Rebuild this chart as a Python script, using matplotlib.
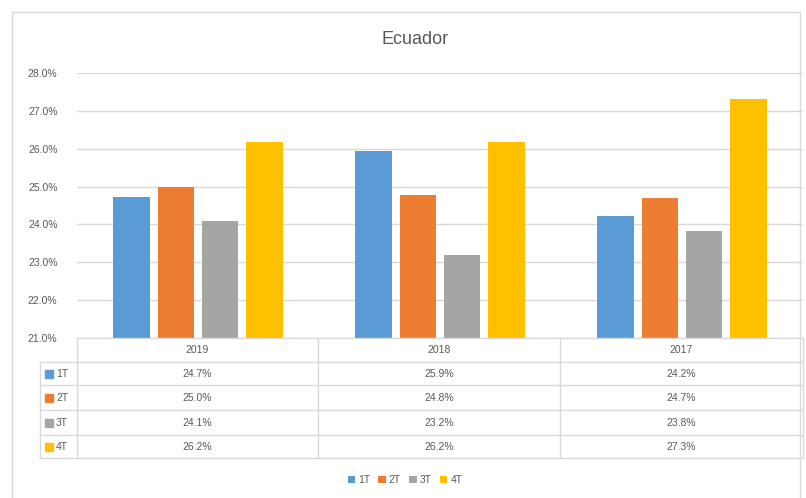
import matplotlib.pyplot as plt
from matplotlib.patches import Rectangle
from matplotlib.lines import Line2D
import numpy as np

plt.rcParams['font.family'] = ['Liberation Sans', 'DejaVu Sans']

years = ['2019', '2018', '2017']
series = ['1T', '2T', '3T', '4T']
t1 = [24.72, 25.94, 24.22]
t2 = [25.00, 24.78, 24.70]
t3 = [24.09, 23.19, 23.83]
t4 = [26.18, 26.17, 27.31]
values = [t1, t2, t3, t4]
colors = ['#5B9BD5', '#ED7D31', '#A5A5A5', '#FFC000']
txt = '#595959'
grid = '#D9D9D9'

W, H = 806, 498
fig = plt.figure(figsize=(W / 100, H / 100), dpi=100)

def fx(px):
    return px / W

def fy(py):
    return 1 - py / H

# outer chart border
fig.add_artist(Rectangle((fx(12), fy(505)), fx(800) - fx(12), fy(12) - fy(505),
                         transform=fig.transFigure, fill=False, ec='#D9D9D9', lw=1))

ax_l, ax_r, ax_t, ax_b = 77, 803, 73, 338
ax = fig.add_axes([fx(ax_l), fy(ax_b), fx(ax_r) - fx(ax_l), fy(ax_t) - fy(ax_b)])

x = np.arange(len(years))
bw = 0.15
step = 0.183
bars = []
for i, (vals, c) in enumerate(zip(values, colors)):
    b = ax.bar(x + (i - 1.5) * step, np.array(vals) - 21, bottom=21, width=bw,
               color=c, zorder=3, label=series[i])
    bars.append(b)

ax.set_xlim(-0.5, 2.5)
ax.set_ylim(21, 28)
ax.set_yticks(np.arange(21, 28.5, 1))
ax.set_yticklabels([f'{v:.1f}%' for v in np.arange(21, 28.5, 1)], color=txt, fontsize=7.5)
ax.set_xticks([])
ax.tick_params(axis='y', length=0, pad=14)
ax.grid(axis='y', color=grid, lw=1, zorder=0)
for s in ax.spines.values():
    s.set_visible(False)

fig.text(fx(415), fy(40), 'Ecuador', ha='center', va='center', fontsize=13, color=txt)

# data table below the axes
row_y = [338, 362, 385, 410, 435, 458]
col_x = [77, 318, 560, 803]
lab_l = 40
lc = '#D9D9D9'
for yy in row_y[1:]:
    fig.add_artist(Line2D([fx(lab_l), fx(803)], [fy(yy), fy(yy)], transform=fig.transFigure, color=lc, lw=1))
fig.add_artist(Line2D([fx(77), fx(803)], [fy(338), fy(338)], transform=fig.transFigure, color=lc, lw=1))
for xx in col_x:
    fig.add_artist(Line2D([fx(xx), fx(xx)], [fy(338), fy(458)], transform=fig.transFigure, color=lc, lw=1))
fig.add_artist(Line2D([fx(lab_l), fx(lab_l)], [fy(362), fy(458)], transform=fig.transFigure, color=lc, lw=1))

for j, yr in enumerate(years):
    cx = (col_x[j] + col_x[j + 1]) / 2
    fig.text(fx(cx), fy((row_y[0] + row_y[1]) / 2), yr, ha='center', va='center', fontsize=7.5, color=txt)
    for i, vals in enumerate(values):
        cy = (row_y[i + 1] + row_y[i + 2]) / 2
        fig.text(fx(cx), fy(cy), f'{vals[j]:.1f}%', ha='center', va='center', fontsize=7.5, color=txt)

for i, s in enumerate(series):
    cy = (row_y[i + 1] + row_y[i + 2]) / 2
    fig.add_artist(Rectangle((fx(45), fy(cy + 4)), fx(8), fy(0) - fy(8),
                             transform=fig.transFigure, color=colors[i]))
    fig.text(fx(56), fy(cy), s, ha='left', va='center', fontsize=7.5, color=txt)

fig.legend(handles=[b for b in bars], labels=series, loc='center', bbox_to_anchor=(fx(405), fy(480)),
           ncol=4, frameon=False, fontsize=7.5, handlelength=0.7, handleheight=0.7,
           handletextpad=0.3, columnspacing=0.8, labelcolor=txt)

fig.savefig('out.png', dpi=100)
